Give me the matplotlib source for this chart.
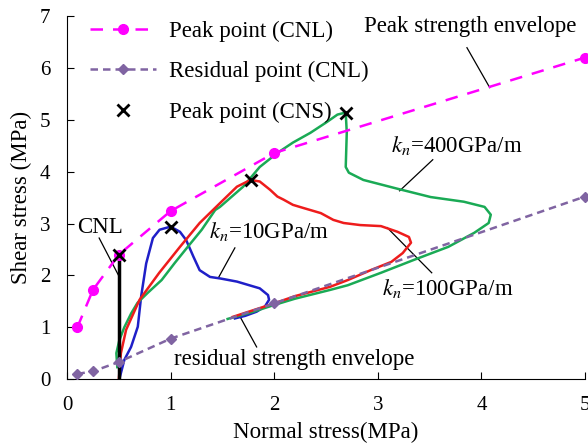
import matplotlib
matplotlib.use("Agg")
import matplotlib.pyplot as plt

plt.rcParams['font.family'] = ['Liberation Serif', 'DejaVu Serif']
plt.rcParams['mathtext.fontset'] = 'stix'

# envelopes (CNL tests)
cnl_sn = [0.1, 0.25, 0.5, 1.0, 2.0, 5.0]
cnl_peak = [1.0, 1.72, 2.4, 3.24, 4.36, 6.2]
cnl_res = [0.1, 0.15, 0.33, 0.78, 1.46, 3.52]

# CNS peak points
cns_sn = [0.5, 1.0, 1.78, 2.69]
cns_peak = [2.4, 2.93, 3.84, 5.13]

# stress paths
kn10_x = [0.505, 0.553, 0.618, 0.683, 0.715, 0.764, 0.829, 0.893, 1.0, 1.09, 1.15, 1.22,
          1.28, 1.38, 1.48, 1.64, 1.86, 1.94, 1.95, 1.91, 1.83, 1.72, 1.62]
kn10_y = [0.0, 0.37, 0.62, 1.01, 1.59, 2.23, 2.72, 2.88, 2.94, 2.84, 2.68, 2.36,
          2.10, 1.97, 1.94, 1.88, 1.75, 1.62, 1.53, 1.40, 1.30, 1.22, 1.17]

kn100_x = [0.5, 0.52, 0.57, 0.70, 0.89, 1.09, 1.28, 1.48, 1.64, 1.77, 1.86, 1.96, 2.03,
           2.09, 2.18, 2.28, 2.45, 2.57, 2.67, 2.83, 3.03, 3.19, 3.30, 3.32, 3.24, 3.13,
           2.93, 2.71, 2.54, 2.2, 2.0, 1.8, 1.6]
kn100_y = [0.0, 0.50, 0.95, 1.53, 2.05, 2.55, 3.01, 3.40, 3.71, 3.84, 3.81, 3.65, 3.52,
           3.46, 3.36, 3.30, 3.20, 3.07, 3.01, 2.97, 2.95, 2.84, 2.74, 2.63, 2.43, 2.26,
           2.10, 1.91, 1.78, 1.60, 1.46, 1.33, 1.20]

kn400_x = [0.485, 0.476, 0.505, 0.553, 0.62, 0.68, 0.777, 0.913, 1.04, 1.165, 1.30, 1.43,
           1.476, 1.70, 1.86, 2.03, 2.18, 2.35, 2.51, 2.61, 2.69, 2.70, 2.69, 2.72, 2.86,
           3.19, 3.51, 3.83, 4.03, 4.09, 4.07, 3.93, 3.68, 3.35, 3.03, 2.71, 2.54, 2.2,
           2.0, 1.8, 1.55]
kn400_y = [0.23, 0.50, 0.75, 1.00, 1.27, 1.47, 1.66, 1.91, 2.24, 2.55, 2.88, 3.26,
           3.32, 3.71, 4.09, 4.36, 4.56, 4.75, 4.96, 5.10, 5.14, 4.75, 4.09, 3.98, 3.84,
           3.67, 3.51, 3.42, 3.32, 3.17, 3.01, 2.82, 2.55, 2.30, 2.05, 1.81, 1.72, 1.55,
           1.43, 1.30, 1.16]

fig = plt.figure(figsize=(5.88, 4.46), dpi=100)
ax = fig.add_axes([0.114, 0.150, 0.881, 0.814])

ax.plot(kn10_x, kn10_y, color='#1f1fc8', lw=1.8, zorder=3)
ax.plot(kn400_x, kn400_y, color='#1aaa55', lw=1.8, zorder=3)
ax.plot(kn100_x, kn100_y, color='#ee1c1c', lw=1.8, zorder=3)

ax.plot([0.5, 0.5], [0.0, 2.4], color='black', lw=2.5, zorder=4)

ax.plot(cnl_sn, cnl_peak, color='#ff00ff', ls=(0, (5, 4)), lw=1.8, marker='o', ms=7,
        label='Peak point (CNL)', zorder=5, clip_on=False)
ax.plot(cnl_sn, cnl_res, color='#8064a2', ls=(0, (3, 2)), lw=1.8, marker='D', ms=5,
        label='Residual point (CNL)', zorder=5, clip_on=False)
ax.plot(cns_sn, cns_peak, ls='none', marker='x', ms=8, mew=2, color='black',
        label='Peak point (CNS)', zorder=6)

ax.set_xlim(0, 5)
ax.set_ylim(0, 7)
ax.set_xticks([0, 1, 2, 3, 4, 5])
ax.set_yticks(range(8))
ax.spines['top'].set_visible(False)
ax.spines['right'].set_visible(False)
ax.tick_params(direction='in', labelsize=15, length=5, pad=12)
ax.set_xlabel('Normal stress(MPa)', fontsize=16.5, labelpad=5)
ax.set_ylabel('Shear stress (MPa)', fontsize=16.5, labelpad=6)

ax.legend(loc='upper left', bbox_to_anchor=(0.004, 1.045), frameon=False, fontsize=16.5,
          labelspacing=0.85, handlelength=2.9, handletextpad=0.55)

# annotations
fs = 16.5
ax.text(3.89, 6.70, 'Peak strength envelope', fontsize=fs, ha='center', va='baseline')
ax.plot([3.86, 4.08], [6.39, 5.62], color='black', lw=0.9)

ax.text(3.13, 4.38, r'$k_n$=400GPa/m', fontsize=fs, va='baseline')
ax.plot([3.53, 3.21], [4.23, 3.63], color='black', lw=0.9)

ax.text(3.04, 1.62, r'$k_n$=100GPa/m', fontsize=fs, va='baseline')
ax.plot([3.09, 3.52], [2.92, 2.05], color='black', lw=0.9)

ax.text(1.37, 2.72, r'$k_n$=10GPa/m', fontsize=fs, va='baseline')
ax.plot([1.62, 1.46], [2.53, 1.95], color='black', lw=0.9)

ax.text(0.1, 2.82, 'CNL', fontsize=fs, va='baseline')
ax.plot([0.31, 0.51], [2.72, 1.95], color='black', lw=0.9)

ax.text(1.03, 0.27, 'residual strength envelope', fontsize=fs, va='baseline')
ax.plot([1.66, 1.83], [1.24, 0.62], color='black', lw=0.9)

fig.savefig('out.png', dpi=100)
